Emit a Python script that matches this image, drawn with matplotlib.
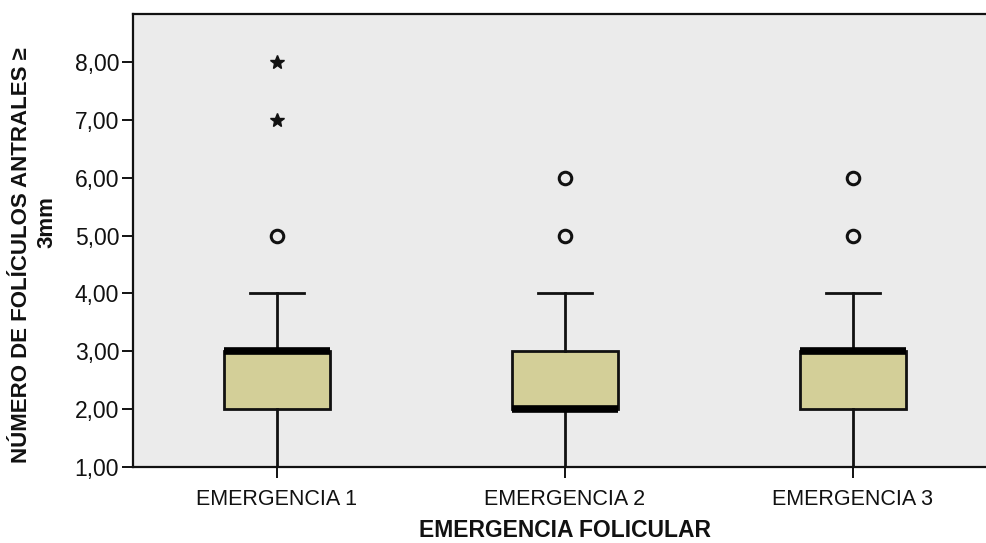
import matplotlib
matplotlib.use("Agg")
import matplotlib.pyplot as plt

categories = ["EMERGENCIA 1", "EMERGENCIA 2", "EMERGENCIA 3"]
q1 = [2.0, 2.0, 2.0]
medians = [3.0, 2.0, 3.0]
q3 = [3.0, 3.0, 3.0]
whisker_low = [1.0, 1.0, 1.0]
whisker_high = [4.0, 4.0, 4.0]
outliers = [[5.0], [5.0, 6.0], [5.0, 6.0]]
extremes = [[7.0, 8.0], [], []]
yticks = [1, 2, 3, 4, 5, 6, 7, 8]
ylabel_lines = ["NÚMERO DE FOLÍCULOS ANTRALES ≥", "3mm"]

W, H = 987, 543
fig = plt.figure(figsize=(W / 100, H / 100), dpi=100)
ax = fig.add_axes([133/W, 1 - 467/H, 1 - 133/W + 0.01, (467 - 14)/H])
ax.set_facecolor("#EBEBEB")

positions = [1, 2, 3]
stats = []
for i in range(3):
    stats.append(dict(med=medians[i], q1=q1[i], q3=q3[i],
                      whislo=whisker_low[i], whishi=whisker_high[i],
                      fliers=[], label=categories[i]))

ax.bxp(stats, positions=positions, widths=0.37, patch_artist=True,
       showfliers=False,
       boxprops=dict(facecolor="#D3CF98", edgecolor="#111111", linewidth=2.0),
       medianprops=dict(color="black", linewidth=5.5, solid_capstyle="butt"),
       whiskerprops=dict(color="#111111", linewidth=2.0),
       capprops=dict(color="#111111", linewidth=2.0),
       capwidths=0.19)

for i, p in enumerate(positions):
    if outliers[i]:
        ax.plot([p] * len(outliers[i]), outliers[i], linestyle="none",
                marker="o", markersize=9, markerfacecolor="none",
                markeredgecolor="#111111", markeredgewidth=2.2, zorder=5)
    if extremes[i]:
        ax.plot([p] * len(extremes[i]), extremes[i], linestyle="none",
                marker="*", markersize=10, color="#111111", zorder=5)

ax.set_xlim(0.5, 3.5)
ax.set_ylim(1.0, 1.0 + (467 - 14) / ((467 - 62) / 7))
ax.set_yticks(yticks)
ax.set_yticklabels([f"{v:.2f}".replace(".", ",") for v in yticks])
ax.set_xticks(positions)
ax.set_xticklabels(categories)

for s in ["left", "bottom", "top"]:
    ax.spines[s].set_linewidth(1.6)
    ax.spines[s].set_color("#111111")
ax.spines["right"].set_visible(False)

ax.tick_params(axis="both", direction="out", length=8, width=1.4, color="#111111",
               labelcolor="#111111")
ax.tick_params(axis="y", labelsize=16.5, pad=2)
ax.tick_params(axis="x", labelsize=15.5, pad=8)
for lbl in ax.get_xticklabels() + ax.get_yticklabels():
    lbl.set_family(["Liberation Sans", "DejaVu Sans"])

ax.set_xlabel("EMERGENCIA FOLICULAR", fontsize=16.5, fontweight="bold",
              family=["Liberation Sans", "DejaVu Sans"],
              labelpad=6, color="#111111")

lab_font = dict(fontsize=16, fontweight="bold", family=["Liberation Sans", "DejaVu Sans"],
                color="#111111", rotation=90, ha="center", va="center")
fig.text(22/W, 1 - 255/H, ylabel_lines[0], **lab_font)
fig.text(47/W, 1 - 222/H, ylabel_lines[1], **lab_font)

fig.savefig("out.png", dpi=100, facecolor="white")
